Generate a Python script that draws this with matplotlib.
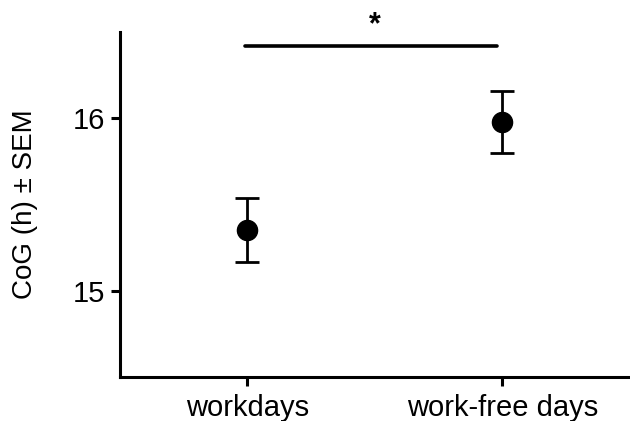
import matplotlib
matplotlib.use("Agg")
from matplotlib import pyplot as plt

matplotlib.rcParams['font.size'] = 21
matplotlib.rcParams['font.family'] = 'sans-serif'
matplotlib.rcParams['font.sans-serif'] = ["Liberation Sans", "DejaVu Sans"]

# centre of gravity of activity, mean and SEM per day type
day_types = ["workdays", "work-free days"]
cog_mean = [15.35, 15.98]
cog_sem = [0.185, 0.18]
sig_level = 16.42
sig_label = "*"

fig = plt.figure(figsize=(6.3, 4.21), dpi=100)
ax = fig.add_axes([0.19, 0.1045, 0.81, 0.8195])

xpos = list(range(len(day_types)))
ax.errorbar(
    xpos, cog_mean, yerr=cog_sem,
    fmt='o', color='black', markersize=14.5,
    elinewidth=2, capsize=8.5, capthick=2,
    )

# significance bracket between the two day types
ax.plot([xpos[0] - 0.01, xpos[1] - 0.02], [sig_level, sig_level],
        color='black', linewidth=2.6, solid_capstyle='round', clip_on=False)
ax.text((xpos[0] + xpos[1]) / 2, sig_level + 0.035, sig_label,
        ha='center', va='bottom', fontsize=22, fontweight='bold')

ax.set_xlim(-0.5, 1.5)
ax.set_ylim(14.5, 16.5)
ax.set_xticks(xpos)
ax.set_xticklabels(day_types)
ax.set_yticks([15, 16])
ax.set_ylabel("CoG (h) ± SEM", fontsize=20, labelpad=25)

for side in ['top', 'right']:
    ax.spines[side].set_visible(False)
for side in ['left', 'bottom']:
    ax.spines[side].set_linewidth(2.2)
ax.tick_params(width=2.2, length=6.5, pad=4, labelsize=21)
ax.tick_params(axis='x', pad=6)

plt.savefig('out.png', dpi=100)
